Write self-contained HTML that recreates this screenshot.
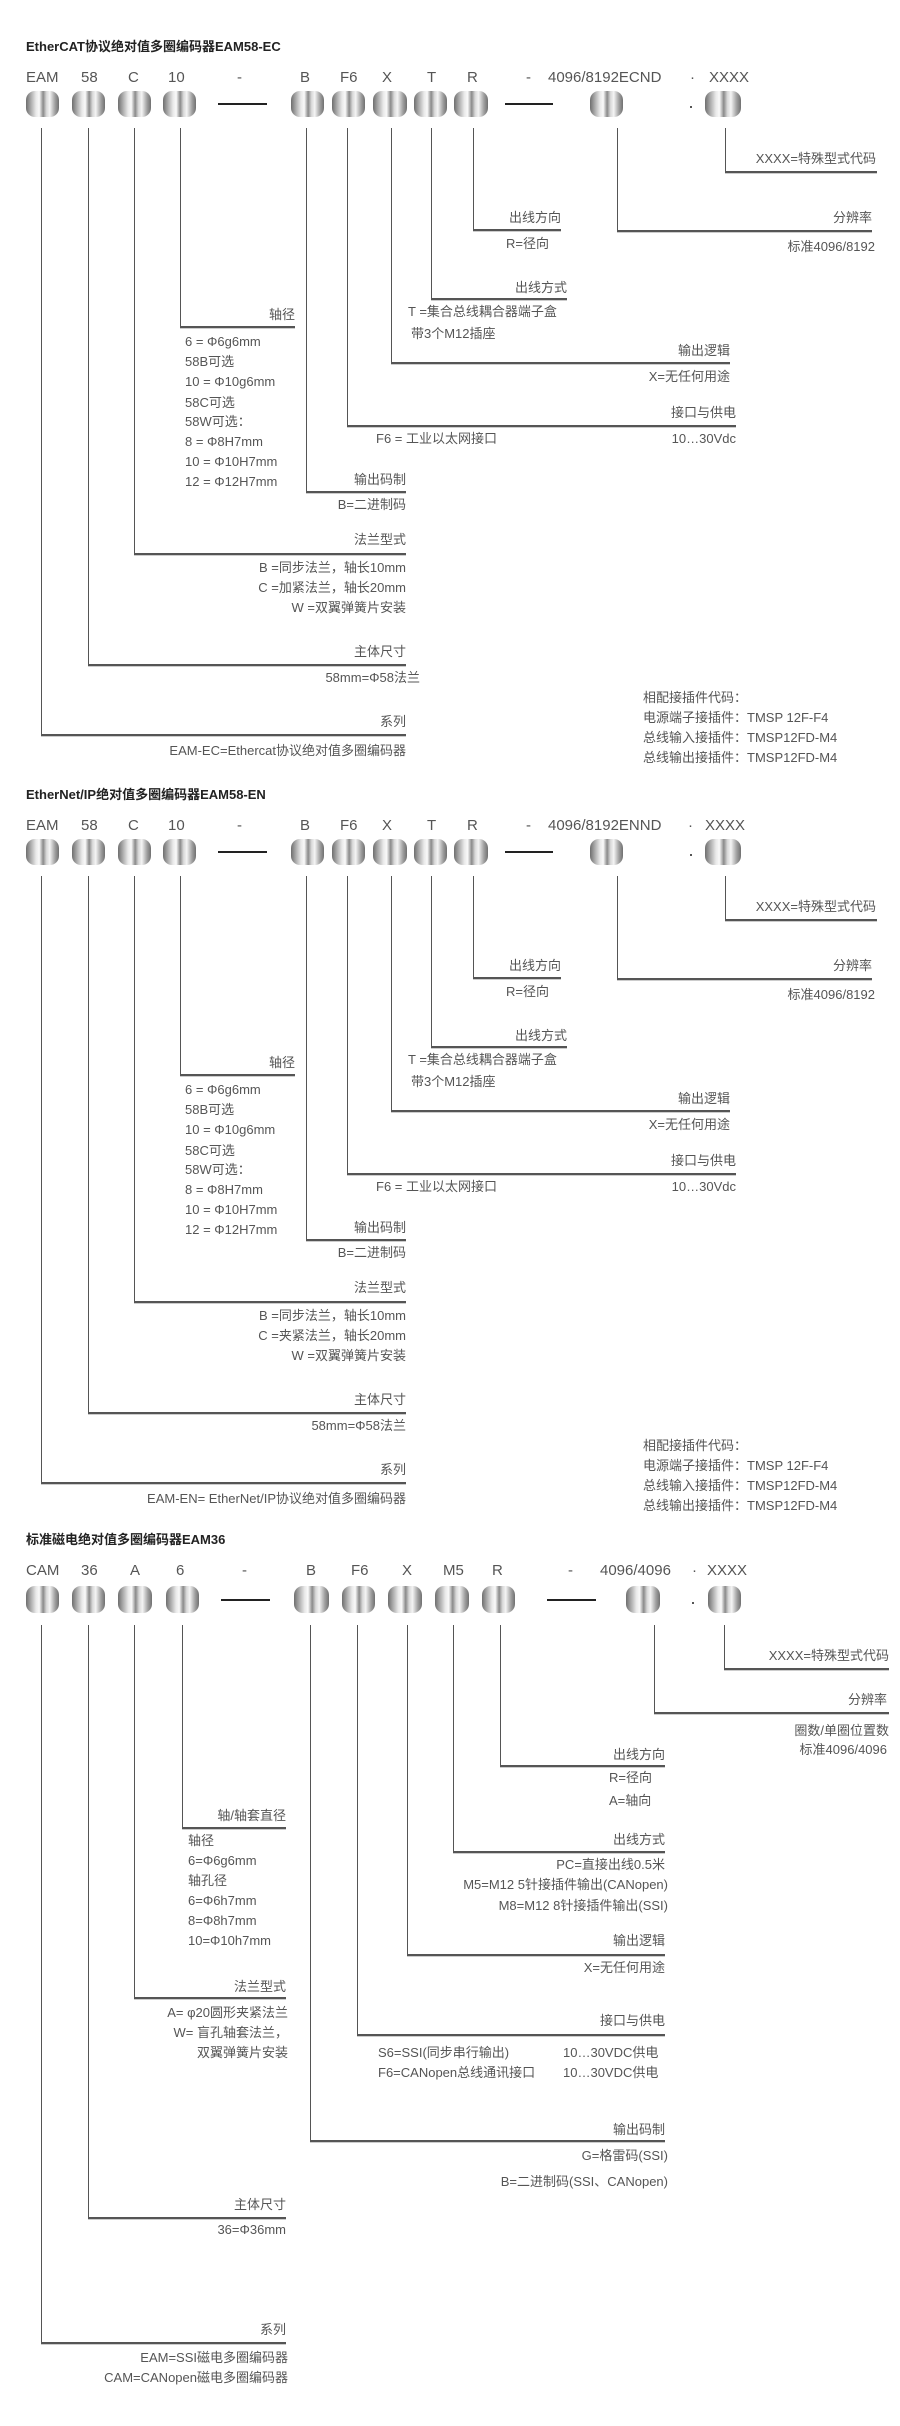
<!DOCTYPE html>
<html><head><meta charset="utf-8">
<style>
*{margin:0;padding:0;box-sizing:border-box}
body{width:900px;height:2426px;background:#fff;position:relative;overflow:hidden;font-family:"Liberation Sans","Noto Sans CJK SC",sans-serif;color:#555}
.s{position:absolute;left:0;width:900px;height:800px}
.t{position:absolute;font-size:13px;line-height:18px;white-space:nowrap;color:#555}
.ti{position:absolute;font-size:13px;line-height:18px;font-weight:bold;color:#222;white-space:nowrap}
.c{position:absolute;font-size:15px;line-height:18px;white-space:nowrap;color:#555}
.b{position:absolute;width:33px;height:26px;border-radius:9px;background:linear-gradient(to right,#6e6e6e 0%,#a8a8a8 14%,#e8e8e8 30%,#fafafa 40%,#8a8a8a 52%,#d8d8d8 62%,#f4f4f4 72%,#a0a0a0 88%,#707070 100%)}
.v{position:absolute;width:1px;background:#555}
.h{position:absolute;height:2px;background:#555;box-shadow:0 1px 0 #ccc}
.d{position:absolute;height:2px;background:#222}
.dot{position:absolute;width:2px;height:2px;background:#555}
</style></head><body>

<!-- SECTION 1 -->
<div class="s" style="top:0">
<div class="ti" style="left:26px;top:38px">EtherCAT协议绝对值多圈编码器EAM58-EC</div>
<div class="c" style="left:26px;top:69px">EAM</div>
<div class="c" style="left:81px;top:69px">58</div>
<div class="c" style="left:128px;top:69px">C</div>
<div class="c" style="left:168px;top:69px">10</div>
<div class="c" style="left:237px;top:69px">-</div>
<div class="c" style="left:300px;top:69px">B</div>
<div class="c" style="left:340px;top:69px">F6</div>
<div class="c" style="left:382px;top:69px">X</div>
<div class="c" style="left:427px;top:69px">T</div>
<div class="c" style="left:467px;top:69px">R</div>
<div class="c" style="left:526px;top:69px">-</div>
<div class="c" style="left:548px;top:69px">4096/8192ECND</div>
<div class="c" style="left:690px;top:69px">·</div>
<div class="c" style="left:709px;top:69px">XXXX</div>
<div class="b" style="left:26px;top:91px"></div>
<div class="b" style="left:72px;top:91px"></div>
<div class="b" style="left:118px;top:91px"></div>
<div class="b" style="left:163px;top:91px"></div>
<div class="d" style="left:218px;top:103px;width:49px"></div>
<div class="b" style="left:291px;top:91px"></div>
<div class="b" style="left:332px;top:91px"></div>
<div class="b" style="left:373px;top:91px;width:34px"></div>
<div class="b" style="left:414px;top:91px"></div>
<div class="b" style="left:454px;top:91px;width:34px"></div>
<div class="d" style="left:505px;top:103px;width:48px"></div>
<div class="b" style="left:590px;top:91px"></div>
<div class="dot" style="left:690px;top:106px"></div>
<div class="b" style="left:705px;top:91px;width:36px"></div>

<div class="v" style="left:41px;top:128px;height:607px"></div>
<div class="v" style="left:88px;top:128px;height:537px"></div>
<div class="v" style="left:134px;top:128px;height:426px"></div>
<div class="v" style="left:180px;top:128px;height:199px"></div>
<div class="v" style="left:306px;top:128px;height:364px"></div>
<div class="v" style="left:347px;top:128px;height:298px"></div>
<div class="v" style="left:391px;top:128px;height:235px"></div>
<div class="v" style="left:431px;top:128px;height:171px"></div>
<div class="v" style="left:473px;top:128px;height:102px"></div>
<div class="v" style="left:617px;top:128px;height:103px"></div>
<div class="v" style="left:725px;top:128px;height:44px"></div>

<div class="h" style="left:725px;top:171px;width:152px"></div>
<div class="h" style="left:473px;top:229px;width:88px"></div>
<div class="h" style="left:617px;top:230px;width:255px"></div>
<div class="h" style="left:431px;top:298px;width:136px"></div>
<div class="h" style="left:180px;top:326px;width:115px"></div>
<div class="h" style="left:391px;top:362px;width:339px"></div>
<div class="h" style="left:347px;top:425px;width:389px"></div>
<div class="h" style="left:306px;top:491px;width:100px"></div>
<div class="h" style="left:134px;top:553px;width:272px"></div>
<div class="h" style="left:88px;top:664px;width:318px"></div>
<div class="h" style="left:41px;top:734px;width:365px"></div>

<div class="t" style="right:24px;top:150px">XXXX=特殊型式代码</div>
<div class="t" style="right:339px;top:209px">出线方向</div>
<div class="t" style="left:506px;top:235px">R=径向</div>
<div class="t" style="right:28px;top:209px">分辨率</div>
<div class="t" style="right:25px;top:238px">标准4096/8192</div>
<div class="t" style="right:333px;top:279px">出线方式</div>
<div class="t" style="left:408px;top:303px">T =集合总线耦合器端子盒</div>
<div class="t" style="left:411px;top:325px">带3个M12插座</div>
<div class="t" style="right:605px;top:306px">轴径</div>
<div class="t" style="left:185px;top:333px">6 = Φ6g6mm</div>
<div class="t" style="left:185px;top:353px">58B可选</div>
<div class="t" style="left:185px;top:373px">10 = Φ10g6mm</div>
<div class="t" style="left:185px;top:394px">58C可选</div>
<div class="t" style="left:185px;top:413px">58W可选：</div>
<div class="t" style="left:185px;top:433px">8 = Φ8H7mm</div>
<div class="t" style="left:185px;top:453px">10 = Φ10H7mm</div>
<div class="t" style="left:185px;top:473px">12 = Φ12H7mm</div>
<div class="t" style="right:170px;top:342px">输出逻辑</div>
<div class="t" style="right:170px;top:368px">X=无任何用途</div>
<div class="t" style="right:164px;top:404px">接口与供电</div>
<div class="t" style="left:376px;top:430px">F6 = 工业以太网接口</div>
<div class="t" style="right:164px;top:430px">10…30Vdc</div>
<div class="t" style="right:494px;top:471px">输出码制</div>
<div class="t" style="right:494px;top:496px">B=二进制码</div>
<div class="t" style="right:494px;top:531px">法兰型式</div>
<div class="t" style="right:494px;top:559px">B =同步法兰，轴长10mm</div>
<div class="t" style="right:494px;top:579px">C =加紧法兰，轴长20mm</div>
<div class="t" style="right:494px;top:599px">W =双翼弹簧片安装</div>
<div class="t" style="right:494px;top:643px">主体尺寸</div>
<div class="t" style="right:480px;top:669px">58mm=Φ58法兰</div>
<div class="t" style="right:494px;top:713px">系列</div>
<div class="t" style="right:494px;top:742px">EAM-EC=Ethercat协议绝对值多圈编码器</div>
<div class="t" style="left:643px;top:689px">相配接插件代码：</div>
<div class="t" style="left:643px;top:709px">电源端子接插件：TMSP 12F-F4</div>
<div class="t" style="left:643px;top:729px">总线输入接插件：TMSP12FD-M4</div>
<div class="t" style="left:643px;top:749px">总线输出接插件：TMSP12FD-M4</div>
</div>

<!-- SECTION 2 -->
<div class="s" style="top:748px">
<div class="ti" style="left:26px;top:38px">EtherNet/IP绝对值多圈编码器EAM58-EN</div>
<div class="c" style="left:26px;top:69px">EAM</div>
<div class="c" style="left:81px;top:69px">58</div>
<div class="c" style="left:128px;top:69px">C</div>
<div class="c" style="left:168px;top:69px">10</div>
<div class="c" style="left:237px;top:69px">-</div>
<div class="c" style="left:300px;top:69px">B</div>
<div class="c" style="left:340px;top:69px">F6</div>
<div class="c" style="left:382px;top:69px">X</div>
<div class="c" style="left:427px;top:69px">T</div>
<div class="c" style="left:467px;top:69px">R</div>
<div class="c" style="left:526px;top:69px">-</div>
<div class="c" style="left:548px;top:69px">4096/8192ENND</div>
<div class="c" style="left:688px;top:69px">·</div>
<div class="c" style="left:705px;top:69px">XXXX</div>
<div class="b" style="left:26px;top:91px"></div>
<div class="b" style="left:72px;top:91px"></div>
<div class="b" style="left:118px;top:91px"></div>
<div class="b" style="left:163px;top:91px"></div>
<div class="d" style="left:218px;top:103px;width:49px"></div>
<div class="b" style="left:291px;top:91px"></div>
<div class="b" style="left:332px;top:91px"></div>
<div class="b" style="left:373px;top:91px;width:34px"></div>
<div class="b" style="left:414px;top:91px"></div>
<div class="b" style="left:454px;top:91px;width:34px"></div>
<div class="d" style="left:505px;top:103px;width:48px"></div>
<div class="b" style="left:590px;top:91px"></div>
<div class="dot" style="left:690px;top:106px"></div>
<div class="b" style="left:705px;top:91px;width:36px"></div>

<div class="v" style="left:41px;top:128px;height:607px"></div>
<div class="v" style="left:88px;top:128px;height:537px"></div>
<div class="v" style="left:134px;top:128px;height:426px"></div>
<div class="v" style="left:180px;top:128px;height:199px"></div>
<div class="v" style="left:306px;top:128px;height:364px"></div>
<div class="v" style="left:347px;top:128px;height:298px"></div>
<div class="v" style="left:391px;top:128px;height:235px"></div>
<div class="v" style="left:431px;top:128px;height:171px"></div>
<div class="v" style="left:473px;top:128px;height:102px"></div>
<div class="v" style="left:617px;top:128px;height:103px"></div>
<div class="v" style="left:725px;top:128px;height:44px"></div>

<div class="h" style="left:725px;top:171px;width:152px"></div>
<div class="h" style="left:473px;top:229px;width:88px"></div>
<div class="h" style="left:617px;top:230px;width:255px"></div>
<div class="h" style="left:431px;top:298px;width:136px"></div>
<div class="h" style="left:180px;top:326px;width:115px"></div>
<div class="h" style="left:391px;top:362px;width:339px"></div>
<div class="h" style="left:347px;top:425px;width:389px"></div>
<div class="h" style="left:306px;top:491px;width:100px"></div>
<div class="h" style="left:134px;top:553px;width:272px"></div>
<div class="h" style="left:88px;top:664px;width:318px"></div>
<div class="h" style="left:41px;top:734px;width:365px"></div>

<div class="t" style="right:24px;top:150px">XXXX=特殊型式代码</div>
<div class="t" style="right:339px;top:209px">出线方向</div>
<div class="t" style="left:506px;top:235px">R=径向</div>
<div class="t" style="right:28px;top:209px">分辨率</div>
<div class="t" style="right:25px;top:238px">标准4096/8192</div>
<div class="t" style="right:333px;top:279px">出线方式</div>
<div class="t" style="left:408px;top:303px">T =集合总线耦合器端子盒</div>
<div class="t" style="left:411px;top:325px">带3个M12插座</div>
<div class="t" style="right:605px;top:306px">轴径</div>
<div class="t" style="left:185px;top:333px">6 = Φ6g6mm</div>
<div class="t" style="left:185px;top:353px">58B可选</div>
<div class="t" style="left:185px;top:373px">10 = Φ10g6mm</div>
<div class="t" style="left:185px;top:394px">58C可选</div>
<div class="t" style="left:185px;top:413px">58W可选：</div>
<div class="t" style="left:185px;top:433px">8 = Φ8H7mm</div>
<div class="t" style="left:185px;top:453px">10 = Φ10H7mm</div>
<div class="t" style="left:185px;top:473px">12 = Φ12H7mm</div>
<div class="t" style="right:170px;top:342px">输出逻辑</div>
<div class="t" style="right:170px;top:368px">X=无任何用途</div>
<div class="t" style="right:164px;top:404px">接口与供电</div>
<div class="t" style="left:376px;top:430px">F6 = 工业以太网接口</div>
<div class="t" style="right:164px;top:430px">10…30Vdc</div>
<div class="t" style="right:494px;top:471px">输出码制</div>
<div class="t" style="right:494px;top:496px">B=二进制码</div>
<div class="t" style="right:494px;top:531px">法兰型式</div>
<div class="t" style="right:494px;top:559px">B =同步法兰，轴长10mm</div>
<div class="t" style="right:494px;top:579px">C =夹紧法兰，轴长20mm</div>
<div class="t" style="right:494px;top:599px">W =双翼弹簧片安装</div>
<div class="t" style="right:494px;top:643px">主体尺寸</div>
<div class="t" style="right:494px;top:669px">58mm=Φ58法兰</div>
<div class="t" style="right:494px;top:713px">系列</div>
<div class="t" style="right:494px;top:742px">EAM-EN= EtherNet/IP协议绝对值多圈编码器</div>
<div class="t" style="left:643px;top:689px">相配接插件代码：</div>
<div class="t" style="left:643px;top:709px">电源端子接插件：TMSP 12F-F4</div>
<div class="t" style="left:643px;top:729px">总线输入接插件：TMSP12FD-M4</div>
<div class="t" style="left:643px;top:749px">总线输出接插件：TMSP12FD-M4</div>
</div>

<!-- SECTION 3 -->
<div class="ti" style="left:26px;top:1531px">标准磁电绝对值多圈编码器EAM36</div>
<div class="c" style="left:26px;top:1562px">CAM</div>
<div class="c" style="left:81px;top:1562px">36</div>
<div class="c" style="left:130px;top:1562px">A</div>
<div class="c" style="left:176px;top:1562px">6</div>
<div class="c" style="left:242px;top:1562px">-</div>
<div class="c" style="left:306px;top:1562px">B</div>
<div class="c" style="left:351px;top:1562px">F6</div>
<div class="c" style="left:402px;top:1562px">X</div>
<div class="c" style="left:443px;top:1562px">M5</div>
<div class="c" style="left:492px;top:1562px">R</div>
<div class="c" style="left:568px;top:1562px">-</div>
<div class="c" style="left:600px;top:1562px">4096/4096</div>
<div class="c" style="left:692px;top:1562px">·</div>
<div class="c" style="left:707px;top:1562px">XXXX</div>
<div class="b" style="left:26px;top:1586px;height:27px"></div>
<div class="b" style="left:72px;top:1586px;height:27px"></div>
<div class="b" style="left:118px;top:1586px;height:27px;width:34px"></div>
<div class="b" style="left:166px;top:1586px;height:27px"></div>
<div class="d" style="left:221px;top:1599px;width:49px"></div>
<div class="b" style="left:294px;top:1586px;height:27px;width:35px"></div>
<div class="b" style="left:342px;top:1586px;height:27px"></div>
<div class="b" style="left:388px;top:1586px;height:27px;width:34px"></div>
<div class="b" style="left:435px;top:1586px;height:27px;width:34px"></div>
<div class="b" style="left:482px;top:1586px;height:27px"></div>
<div class="d" style="left:547px;top:1599px;width:49px"></div>
<div class="b" style="left:626px;top:1586px;height:27px;width:34px"></div>
<div class="dot" style="left:692px;top:1602px"></div>
<div class="b" style="left:708px;top:1586px;height:27px"></div>

<div class="v" style="left:41px;top:1625px;height:718px"></div>
<div class="v" style="left:88px;top:1625px;height:593px"></div>
<div class="v" style="left:134px;top:1625px;height:373px"></div>
<div class="v" style="left:182px;top:1625px;height:203px"></div>
<div class="v" style="left:310px;top:1625px;height:516px"></div>
<div class="v" style="left:357px;top:1625px;height:410px"></div>
<div class="v" style="left:407px;top:1625px;height:330px"></div>
<div class="v" style="left:453px;top:1625px;height:227px"></div>
<div class="v" style="left:500px;top:1625px;height:141px"></div>
<div class="v" style="left:654px;top:1625px;height:88px"></div>
<div class="v" style="left:724px;top:1625px;height:44px"></div>

<div class="h" style="left:724px;top:1668px;width:165px"></div>
<div class="h" style="left:654px;top:1712px;width:235px"></div>
<div class="h" style="left:500px;top:1765px;width:165px"></div>
<div class="h" style="left:182px;top:1827px;width:104px"></div>
<div class="h" style="left:453px;top:1851px;width:212px"></div>
<div class="h" style="left:407px;top:1954px;width:258px"></div>
<div class="h" style="left:134px;top:1997px;width:152px"></div>
<div class="h" style="left:357px;top:2034px;width:308px"></div>
<div class="h" style="left:310px;top:2140px;width:355px"></div>
<div class="h" style="left:88px;top:2217px;width:198px"></div>
<div class="h" style="left:41px;top:2342px;width:245px"></div>

<div class="t" style="right:11px;top:1647px">XXXX=特殊型式代码</div>
<div class="t" style="right:13px;top:1691px">分辨率</div>
<div class="t" style="right:11px;top:1722px">圈数/单圈位置数</div>
<div class="t" style="right:13px;top:1741px">标准4096/4096</div>
<div class="t" style="right:235px;top:1746px">出线方向</div>
<div class="t" style="left:609px;top:1769px">R=径向</div>
<div class="t" style="left:609px;top:1792px">A=轴向</div>
<div class="t" style="right:614px;top:1807px">轴/轴套直径</div>
<div class="t" style="left:188px;top:1832px">轴径</div>
<div class="t" style="left:188px;top:1852px">6=Φ6g6mm</div>
<div class="t" style="left:188px;top:1872px">轴孔径</div>
<div class="t" style="left:188px;top:1892px">6=Φ6h7mm</div>
<div class="t" style="left:188px;top:1912px">8=Φ8h7mm</div>
<div class="t" style="left:188px;top:1932px">10=Φ10h7mm</div>
<div class="t" style="right:235px;top:1831px">出线方式</div>
<div class="t" style="right:235px;top:1856px">PC=直接出线0.5米</div>
<div class="t" style="right:232px;top:1876px">M5=M12 5针接插件输出(CANopen)</div>
<div class="t" style="right:232px;top:1897px">M8=M12 8针接插件输出(SSI)</div>
<div class="t" style="right:235px;top:1932px">输出逻辑</div>
<div class="t" style="right:235px;top:1959px">X=无任何用途</div>
<div class="t" style="right:614px;top:1978px">法兰型式</div>
<div class="t" style="right:612px;top:2004px">A= φ20圆形夹紧法兰</div>
<div class="t" style="right:612px;top:2024px">W= 盲孔轴套法兰，</div>
<div class="t" style="right:612px;top:2044px">双翼弹簧片安装</div>
<div class="t" style="right:235px;top:2012px">接口与供电</div>
<div class="t" style="left:378px;top:2044px">S6=SSI(同步串行输出)</div>
<div class="t" style="left:563px;top:2044px">10…30VDC供电</div>
<div class="t" style="left:378px;top:2064px">F6=CANopen总线通讯接口</div>
<div class="t" style="left:563px;top:2064px">10…30VDC供电</div>
<div class="t" style="right:235px;top:2121px">输出码制</div>
<div class="t" style="right:232px;top:2147px">G=格雷码(SSI)</div>
<div class="t" style="right:232px;top:2173px">B=二进制码(SSI、CANopen)</div>
<div class="t" style="right:614px;top:2196px">主体尺寸</div>
<div class="t" style="right:614px;top:2221px">36=Φ36mm</div>
<div class="t" style="right:614px;top:2321px">系列</div>
<div class="t" style="right:612px;top:2349px">EAM=SSI磁电多圈编码器</div>
<div class="t" style="right:612px;top:2369px">CAM=CANopen磁电多圈编码器</div>

</body></html>
